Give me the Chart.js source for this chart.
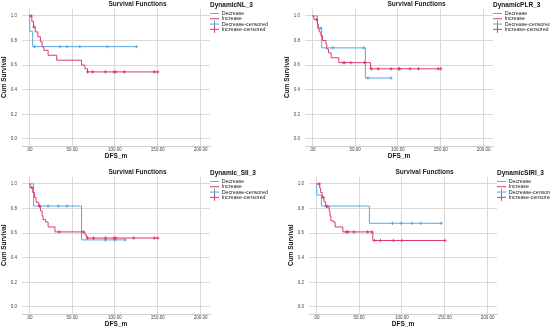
<!DOCTYPE html>
<html>
<head>
<meta charset="utf-8">
<script src="https://cdn.jsdelivr.net/npm/chart.js@4.4.1/dist/chart.umd.min.js"></script>
<style>
  html, body { margin: 0; padding: 0; background: #fff; overflow: hidden; }
  body { width: 550px; height: 334px; position: relative; }
  canvas { position: absolute; }
</style>
</head>
<body>
<canvas id="c1" width="275" height="167" style="left:0px;top:0px"></canvas>
<canvas id="c2" width="275" height="167" style="left:275px;top:0px"></canvas>
<canvas id="c3" width="275" height="167" style="left:0px;top:168px"></canvas>
<canvas id="c4" width="275" height="167" style="left:287px;top:168px"></canvas>
<script>
// Kaplan-Meier steps: event times (months) and survival after each step.
// last entry in each time list = end of follow-up
const xTicks = [0, 50, 100, 150, 200];
const yTicks = [0, 0.2, 0.4, 0.6, 0.8, 1.0];
const seriesNames = ['Decrease', 'Increase', 'Decrease-censored', 'Increase-censored'];

// DynamicNL_3
const nlDecT = [0, 0.5, 4, 125];
const nlDecS = [1, 0.875, 0.75, 0.75];
const nlDecCens = [6, 36, 44, 59, 91, 125];
const nlIncT = [0, 3, 5, 7, 10, 13, 15, 17, 22, 32, 61, 65, 68, 150];
const nlIncS = [1, 0.955, 0.91, 0.87, 0.83, 0.79, 0.75, 0.72, 0.68, 0.64, 0.60, 0.57, 0.545, 0.545];
const nlIncCens = [2, 5.5, 68, 74, 89, 99, 101, 111, 146, 150];

// DynamicPLR_3
const plrDecT = [0, 6, 11, 62, 92];
const plrDecS = [1, 0.9, 0.74, 0.495, 0.495];
const plrDecCens = [10, 24, 60, 65, 92];
const plrIncT = [0, 2, 6, 7, 8, 10, 12, 16, 17, 19, 22, 31, 68, 150];
const plrIncS = [1, 0.97, 0.93, 0.9, 0.87, 0.84, 0.80, 0.77, 0.73, 0.70, 0.66, 0.62, 0.57, 0.57];
const plrIncCens = [5, 36, 38, 45, 61, 69, 77, 92, 101, 102, 114, 124, 147, 150];

// Dynamic_SII_3
const siiDecT = [0, 5, 61, 112];
const siiDecS = [1, 0.82, 0.545, 0.545];
const siiDecCens = [12, 22, 34, 44, 89, 100, 112];
const siiIncT = [0, 1, 4, 6, 8, 11, 13, 15, 16, 19, 22, 30, 65, 67, 150];
const siiIncS = [1, 0.97, 0.93, 0.89, 0.85, 0.82, 0.78, 0.74, 0.71, 0.69, 0.65, 0.61, 0.585, 0.56, 0.56];
const siiIncCens = [3, 12, 35, 63, 68, 75, 89, 99, 101, 122, 146, 150];

// DynamicSIRI_3
const siriDecT = [0, 0.5, 6, 62, 146];
const siriDecS = [1, 0.91, 0.82, 0.68, 0.68];
const siriDecCens = [13, 89, 99, 112, 122, 146];
const siriIncT = [0, 4, 5, 7, 9, 11, 15, 16, 17, 20, 22, 31, 66, 150];
const siriIncS = [1, 0.965, 0.93, 0.89, 0.855, 0.815, 0.78, 0.74, 0.70, 0.69, 0.65, 0.61, 0.54, 0.54];
const siriIncCens = [3.5, 8, 12, 35, 37, 44, 60, 65, 68, 75, 90, 100, 150];

const blue = '#5aa7de';
const red = '#dc3a6a';
const FONT = "'Liberation Sans', Arial, sans-serif";

// value of the step curve at time t
function survAt(ts, ss, t) {
  let s = ss[0];
  for (let i = 0; i < ts.length; i++) if (ts[i] <= t) s = ss[i];
  return s;
}

function stepData(ts, ss) {
  return ts.map((t, i) => ({ x: t, y: ss[i] }));
}

function censData(cens, ts, ss) {
  return cens.map(t => ({ x: t, y: survAt(ts, ss, t) }));
}

function makeChart(id, groupName, dec, inc, opt) {
  const ctx = document.getElementById(id).getContext('2d');
  new Chart(ctx, {
    type: 'line',
    data: {
      datasets: [
        {
          label: seriesNames[0], data: stepData(dec.t, dec.s),
          borderColor: blue, backgroundColor: blue, borderWidth: 1,
          stepped: 'before', pointRadius: 0, pointStyle: 'line', fill: false, order: 3
        },
        {
          label: seriesNames[1], data: stepData(inc.t, inc.s),
          borderColor: red, backgroundColor: red, borderWidth: 1,
          stepped: 'before', pointRadius: 0, pointStyle: 'line', fill: false, order: 1
        },
        {
          label: seriesNames[2], data: censData(dec.c, dec.t, dec.s),
          borderColor: blue, backgroundColor: blue, borderWidth: 1,
          showLine: false, pointStyle: 'cross', pointRadius: 1.6, order: 2
        },
        {
          label: seriesNames[3], data: censData(inc.c, inc.t, inc.s),
          borderColor: red, backgroundColor: red, borderWidth: 1,
          showLine: false, pointStyle: 'cross', pointRadius: 1.6, order: 0
        }
      ]
    },
    options: {
      responsive: false,
      animation: false,
      devicePixelRatio: 1,
      layout: { padding: { left: opt.padLeft, right: 0, top: 0, bottom: 8 } },
      plugins: {
        title: {
          display: true, text: 'Survival Functions', color: '#222',
          font: { family: FONT, size: 6.5, weight: 'bold', lineHeight: 1 },
          padding: { top: 1, bottom: 1 }
        },
        legend: {
          display: true, position: 'right', align: 'start',
          maxWidth: opt.legendWidth,
          title: {
            display: true, text: groupName, color: '#111', position: 'start',
            font: { family: FONT, size: 6.5, weight: 'bold' },
            padding: { top: 2, bottom: 1 }
          },
          labels: {
            usePointStyle: true, pointStyleWidth: 9, boxWidth: 9, boxHeight: 5,
            padding: 0, color: '#222',
            font: { family: FONT, size: 5.3 },
            sort: (a, b) => a.datasetIndex - b.datasetIndex
          }
        },
        tooltip: { enabled: false }
      },
      scales: {
        x: {
          type: 'linear', min: -8.5, max: 211,
          afterBuildTicks: s => { s.ticks = xTicks.map(v => ({ value: v })); },
          afterFit: s => { s.height = 13; },
          ticks: {
            padding: 2, color: '#444', maxRotation: 0,
            font: { family: FONT, size: 4.5, lineHeight: 1 },
            callback: v => v === 0 ? '.00' : v.toFixed(2)
          },
          grid: { color: '#d9d9d9', drawTicks: false, lineWidth: 1 },
          border: { display: true, color: '#cfcfcf' },
          title: {
            display: true, text: 'DFS_m', color: '#111',
            font: { family: FONT, size: 6.5, weight: 'bold', lineHeight: 1 },
            padding: 0
          }
        },
        y: {
          type: 'linear', min: -0.057, max: 1.06,
          afterBuildTicks: s => { s.ticks = yTicks.map(v => ({ value: v })); },
          afterFit: s => { s.width = 22; },
          ticks: {
            padding: 5, color: '#444',
            font: { family: FONT, size: 4.5 },
            callback: v => v.toFixed(1)
          },
          grid: { color: '#d9d9d9', drawTicks: false, lineWidth: 1 },
          border: { display: false },
          title: {
            display: true, text: 'Cum Survival', color: '#111',
            font: { family: FONT, size: 6.5, weight: 'bold' },
            padding: 0
          }
        }
      }
    }
  });
}

makeChart('c1', 'DynamicNL_3',
  { t: nlDecT, s: nlDecS, c: nlDecCens }, { t: nlIncT, s: nlIncS, c: nlIncCens },
  { padLeft: 0, legendWidth: 65 });
makeChart('c2', 'DynamicPLR_3',
  { t: plrDecT, s: plrDecS, c: plrDecCens }, { t: plrIncT, s: plrIncS, c: plrIncCens },
  { padLeft: 8, legendWidth: 57 });
makeChart('c3', 'Dynamic_SII_3',
  { t: siiDecT, s: siiDecS, c: siiDecCens }, { t: siiIncT, s: siiIncS, c: siiIncCens },
  { padLeft: 0, legendWidth: 65 });
makeChart('c4', 'DynamicSIRI_3',
  { t: siriDecT, s: siriDecS, c: siriDecCens }, { t: siriIncT, s: siriIncS, c: siriIncCens },
  { padLeft: 0, legendWidth: 65 });
</script>
</body>
</html>
